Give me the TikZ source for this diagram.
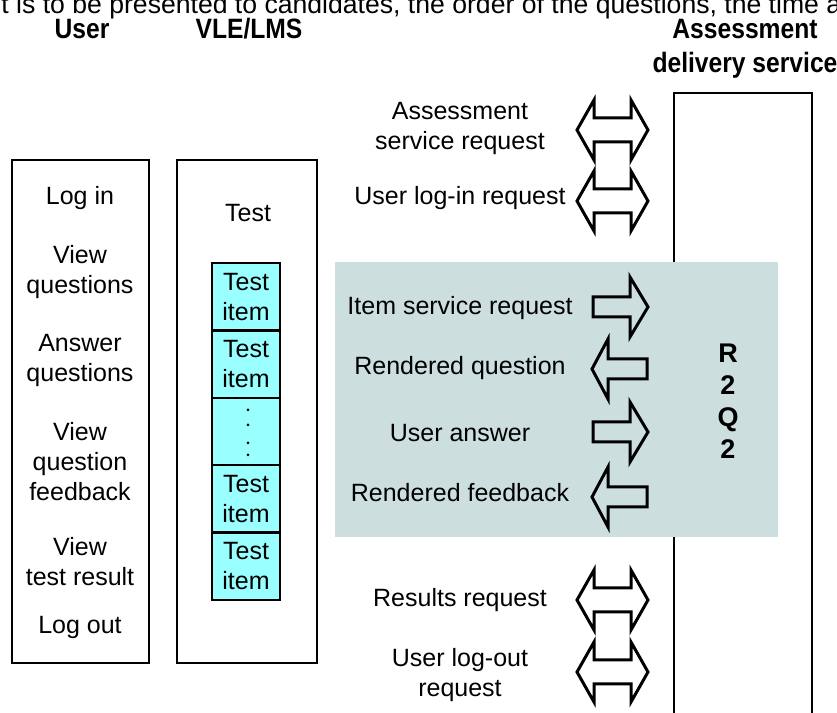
\documentclass[tikz,border=0pt]{standalone}
\usepackage{fontspec}
\setmainfont{Liberation Sans}
\newfontfamily\headfont{Liberation Sans}[FakeStretch=0.88]
\usepackage{tikz}
\usetikzlibrary{positioning}
\definecolor{ItemCyan}  {HTML}{99FFFF}
\definecolor{PanelGrey} {HTML}{CCDEDE}

\begin{document}
\begin{tikzpicture}[
  x=0.5pt, y=0.5pt,
  every node/.style={inner sep=0pt, align=center, font=\fontsize{12.5}{15}\selectfont},
  head/.style={font=\headfont\bfseries\fontsize{14}{17}\selectfont},
  colline/.style={line width=1pt},
  itembox/.style={draw, line width=1.25pt, fill=ItemCyan, outer sep=0pt,
                  minimum width=34pt, minimum height=33.7pt},
  blockline/.style={line width=1.5pt},
  pics/dblblock/.style={code={
    \draw[blockline] (-35.5,0) -- (-18.5,30) -- (-18.5,12) -- (18.5,12) -- (18.5,30)
      -- (35.5,0) -- (18.5,-30) -- (18.5,-12) -- (-18.5,-12) -- (-18.5,-30) -- cycle;}},
  pics/rblock/.style={code={
    \draw[blockline] (-27.5,-10) -- (9.5,-10) -- (9.5,-30) -- (27.5,0)
      -- (9.5,30) -- (9.5,10) -- (-27.5,10) -- cycle;}},
  pics/lblock/.style={code={
    \draw[blockline] (27.5,-10) -- (-11.5,-10) -- (-11.5,-30) -- (-27.5,0)
      -- (-11.5,30) -- (-11.5,10) -- (27.5,10) -- cycle;}},
]
\useasboundingbox (0,0) rectangle (837,713);

% Cut-off line of text at the top
\node[anchor=base west, font=\fontsize{13.3}{16}\selectfont] (cuttext) at (1,699)
  {t is to be presented to candidates, the order of the questions, the time a};

% Column headings
\node[head, anchor=base] (userhead) at (82,674) {User};
\node[head, anchor=base] (vlehead)  at (249,674) {VLE/LMS};
\node[head, font=\headfont\bfseries\fontsize{14}{17}\selectfont] (adshead) at (745,664)
  {Assessment\\delivery service};

% Columns
\draw[colline] (12,50) rectangle (149,553);
\draw[colline] (177,50) rectangle (317,553);
\draw[colline] (674,-5) |- (812,620) -- (812,-5);

% Shaded item exchange
\fill[PanelGrey] (335,176) rectangle (778,451);

% User actions
\node (login)    at (80,515) {Log in};
\node (viewq)    at (80,441) {View\\questions};
\node (answerq)  at (80,353) {Answer\\questions};
\node (viewfb)   at (80,251) {View\\question\\feedback};
\node (viewres)  at (80,151) {View\\test result};
\node (logout)   at (80,86)  {Log out};

% Test and its items
\node (test) at (248,500) {Test};
\node[itembox] (item1) at (246,416.3) {Test\\item};
\node[itembox, below=0pt of item1] (item2) {Test\\item};
\node[itembox, below=0pt of item2] (item3) {};
\node[itembox, below=0pt of item3] (item4) {Test\\item};
\node[itembox, below=0pt of item4] (item5) {Test\\item};
\foreach \y in {303, 288, 270, 258}
  \fill (248,\y) circle (1.5);

% Service name
\node[font=\bfseries\fontsize{13.5}{16}\selectfont] (rtwoqtwo) at (728,312) {R\\2\\Q\\2};

% Messages
\node (asreq)    at (460,585) {Assessment\\service request};
\node (loginreq) at (460,515) {User log-in request};
\node (itemreq)  at (460,405) {Item service request};
\node (rendq)    at (460,345) {Rendered question};
\node (useransw) at (460,280) {User answer};
\node (rendfb)   at (460,220) {Rendered feedback};
\node (resreq)   at (460,113) {Results request};
\node (logoutreq) at (460,38) {User log-out\\request};

% Block arrows
\pic at (612.5,583) {dblblock};
\pic at (612.5,512) {dblblock};
\pic at (620.5,406) {rblock};
\pic at (619.5,344) {lblock};
\pic at (620.5,281) {rblock};
\pic at (619.5,216) {lblock};
\pic at (612.5,113) {dblblock};
\pic at (612.5,41)  {dblblock};

\end{tikzpicture}
\end{document}
